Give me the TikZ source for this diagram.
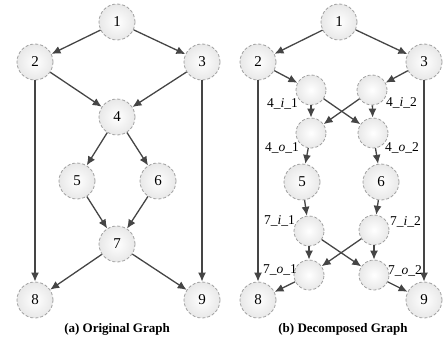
\documentclass[tikz,border=0pt]{standalone}
\usepackage{fontspec}
\setmainfont{Liberation Serif}
\usetikzlibrary{arrows.meta}
\definecolor{edgec}{HTML}{454545}
\definecolor{nodeb}{HTML}{A0A0A0}
\begin{document}
\begin{tikzpicture}[x=1pt,y=-1pt,
  big/.style={circle,minimum size=36pt,inner sep=0pt,draw=nodeb,densely dashed,line width=0.8pt,inner color=white,outer color=gray!18,font=\fontsize{15}{15}\selectfont},
  small/.style={big,minimum size=30pt},
  edge/.style={draw=edgec,line width=1.3pt,-{Latex[length=9pt,width=8pt]}},
  lab/.style={font=\fontsize{13.5}{13.5}\selectfont,inner sep=0pt},
  captext/.style={font=\fontsize{13}{13}\selectfont\bfseries,inner sep=0pt}]
\useasboundingbox (0,0) rectangle (443,345);
% (a)
\node[big] (a1) at (117,22) {1};
\node[big] (a2) at (35,62) {2};
\node[big] (a3) at (202,62) {3};
\node[big] (a4) at (117,117) {4};
\node[big] (a5) at (77,181) {5};
\node[big] (a6) at (158,181) {6};
\node[big] (a7) at (117,244) {7};
\node[big] (a8) at (35,300) {8};
\node[big] (a9) at (202,300) {9};
\draw[edge] (a1) -- (a2);
\draw[edge] (a1) -- (a3);
\draw[edge] (a2) -- (a4);
\draw[edge] (a3) -- (a4);
\draw[edge] (a4) -- (a5);
\draw[edge] (a4) -- (a6);
\draw[edge] (a5) -- (a7);
\draw[edge] (a6) -- (a7);
\draw[edge] (a7) -- (a8);
\draw[edge] (a7) -- (a9);
\draw[edge] (a2) -- (a8);
\draw[edge] (a3) -- (a9);
\node[captext] (capa) at (117,329) {(a) Original Graph};
% (b)
\node[big] (b1) at (339,22) {1};
\node[big] (b2) at (258,62) {2};
\node[big] (b3) at (424,62) {3};
\node[small] (i41) at (311,90) {};
\node[small] (i42) at (372,90) {};
\node[small] (o41) at (311,133) {};
\node[small] (o42) at (373,133) {};
\node[big] (b5) at (302,182) {5};
\node[big] (b6) at (381,182) {6};
\node[small] (i71) at (309,231) {};
\node[small] (i72) at (374,230) {};
\node[small] (o71) at (309,275) {};
\node[small] (o72) at (374,275) {};
\node[big] (b8) at (258,300) {8};
\node[big] (b9) at (424,300) {9};
\draw[edge] (b1) -- (b2);
\draw[edge] (b1) -- (b3);
\draw[edge] (b2) -- (i41);
\draw[edge] (b3) -- (i42);
\draw[edge] (i41) -- (o41);
\draw[edge] (i41) -- (o42);
\draw[edge] (i42) -- (o41);
\draw[edge] (i42) -- (o42);
\draw[edge] (o41) -- (b5);
\draw[edge] (o42) -- (b6);
\draw[edge] (b5) -- (i71);
\draw[edge] (b6) -- (i72);
\draw[edge] (i71) -- (o71);
\draw[edge] (i71) -- (o72);
\draw[edge] (i72) -- (o71);
\draw[edge] (i72) -- (o72);
\draw[edge] (o71) -- (b8);
\draw[edge] (o72) -- (b9);
\draw[edge] (b2) -- (b8);
\draw[edge] (b3) -- (b9);
\node[lab,anchor=east] (li41) at (298,104) {4\_\textit{i}\_1};
\node[lab,anchor=west] (li42) at (386,103) {4\_\textit{i}\_2};
\node[lab,anchor=east] (lo41) at (299,148) {4\_\textit{o}\_1};
\node[lab,anchor=west] (lo42) at (385,148) {4\_\textit{o}\_2};
\node[lab,anchor=east] (li71) at (295,221) {7\_\textit{i}\_1};
\node[lab,anchor=west] (li72) at (390,222) {7\_\textit{i}\_2};
\node[lab,anchor=east] (lo71) at (297,270) {7\_\textit{o}\_1};
\node[lab,anchor=west] (lo72) at (388,271) {7\_\textit{o}\_2};
\node[captext] (capb) at (343,329) {(b) Decomposed Graph};
\end{tikzpicture}
\end{document}
